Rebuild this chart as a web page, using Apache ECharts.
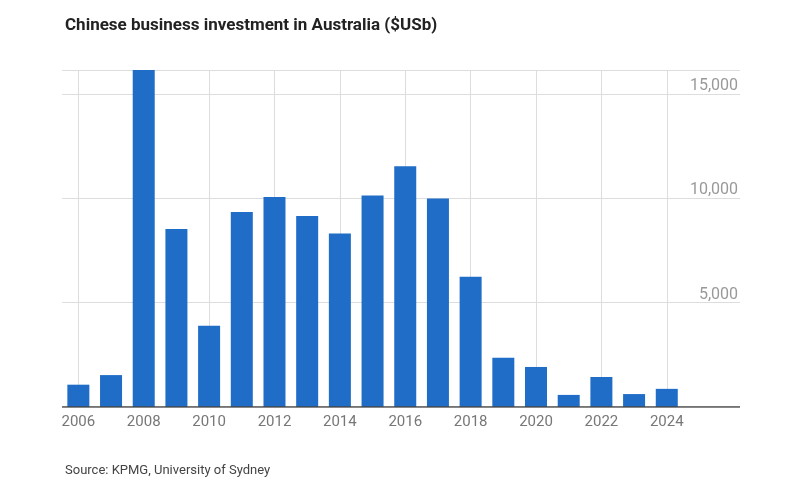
<!DOCTYPE html>
<html><head><meta charset="utf-8">
<script src="https://cdn.jsdelivr.net/npm/echarts@6/dist/echarts.min.js"></script>
<style>body{margin:0;background:#fff}#c{width:800px;height:497px}</style>
</head><body><div id="c"></div>
<script>
var years = [2006,2007,2008,2009,2010,2011,2012,2013,2014,2015,2016,2017,2018,2019,2020,2021,2022,2023,2024];
var values = [1070,1530,16160,8540,3900,9350,10070,9160,8320,10140,11540,10000,6250,2360,1920,580,1440,620,870];
var labelYears = [2006,2008,2010,2012,2014,2016,2018,2020,2022,2024];

var myChart = echarts.init(document.getElementById('c'));
option = {
  animation: false,
  title: [
    { text: 'Chinese business investment in Australia ($USb)', left: 60, top: 12,
      textStyle: { fontFamily: 'Roboto', fontSize: 17, fontWeight: 'bold', color: '#222' } },
    { text: 'Source: KPMG, University of Sydney', left: 60, top: 459,
      textStyle: { fontFamily: 'Roboto', fontSize: 13, fontWeight: 'normal', color: '#444' } }
  ],
  grid: { left: 62, right: 60, top: 70, bottom: 90 },
  xAxis: {
    type: 'value', min: 2005.5, max: 2026.24,
    axisLine: { show: false },
    axisTick: { show: false },
    splitLine: { show: false },
    axisLabel: { customValues: labelYears, color: '#777', fontSize: 15, fontFamily: 'Roboto', margin: 8,
      formatter: function (v) { return String(v); } }
  },
  yAxis: {
    type: 'value', position: 'right', min: 0, max: 16160, interval: 5000,
    axisLine: { show: false }, axisTick: { show: false },
    splitLine: { lineStyle: { color: '#ddd' } },
    axisLabel: { inside: true, margin: 2, verticalAlign: 'bottom', color: '#999', fontSize: 16, fontFamily: 'Roboto',
      showMaxLabel: false,
      formatter: function (v) { return v === 0 ? '' : v.toLocaleString('en-US'); } }
  },
  series: [{
    type: 'bar', barWidth: 22,
    itemStyle: { color: '#1f6dc6' },
    data: years.map(function (y, i) { return [y, values[i]]; }),
    z: 3,
    markLine: {
      silent: true, symbol: 'none', label: { show: false }, z: 1,
      lineStyle: { color: '#ddd', type: 'solid', width: 1 },
      data: labelYears.map(function (y) { return { xAxis: y }; })
    }
  }, {
    type: 'line', silent: true, symbol: 'none', z: 5,
    lineStyle: { color: '#444', width: 1.5 },
    data: [[2005.5, 0], [2026.24, 0]]
  }]
};
myChart.setOption(option);
</script></body></html>
